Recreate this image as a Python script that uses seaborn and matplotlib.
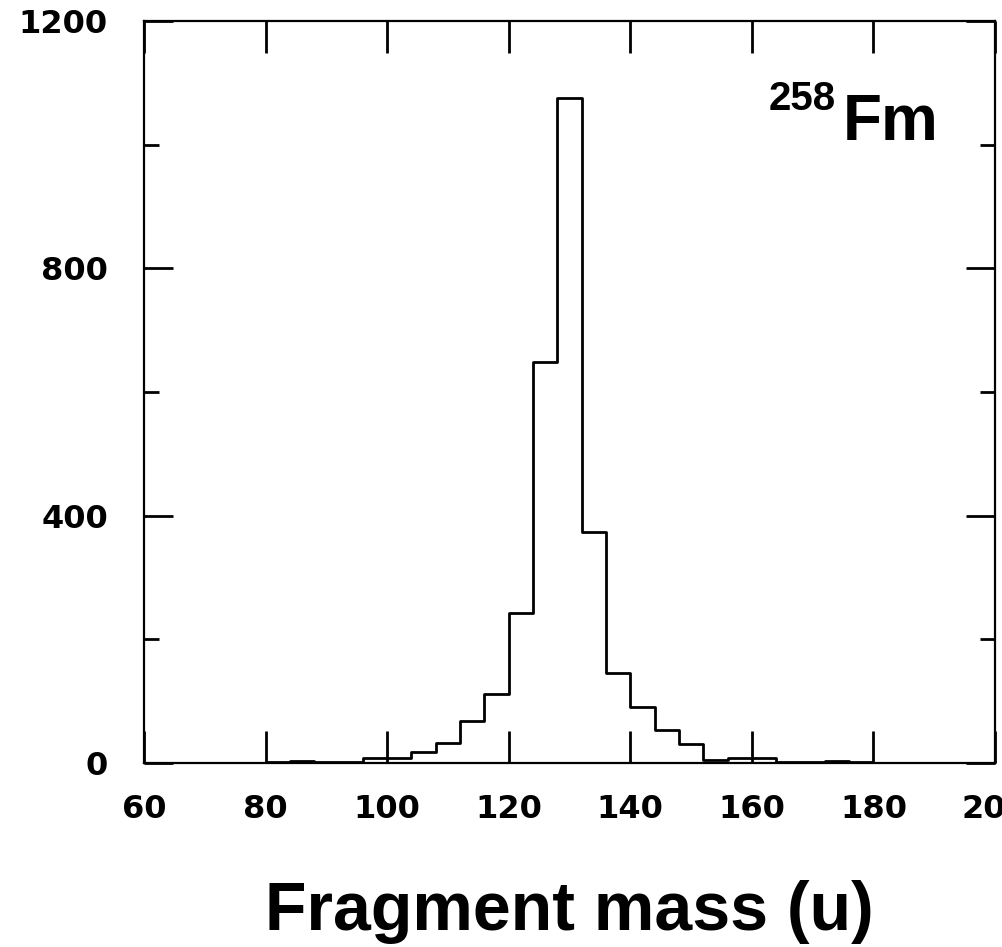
import numpy as np
import pandas as pd
import matplotlib
matplotlib.use("Agg")
import matplotlib.pyplot as plt
import seaborn as sns

# Bin lower edges (u) and counts
bin_width = 4
bin_lefts = [60, 64, 68, 72, 76, 80, 84, 88, 92, 96, 100, 104, 108, 112, 116,
             120, 124, 128, 132, 136, 140, 144, 148, 152, 156, 160, 164, 168,
             172, 176, 180, 184, 188, 192, 196]
counts = [0, 0, 0, 0, 0, 1, 3, 1, 2, 8, 8, 17, 33, 68, 111,
          243, 648, 1076, 374, 146, 91, 53, 30, 5, 8, 8, 2, 1,
          3, 1, 0, 0, 0, 0, 0]
x_ticks = [60, 80, 100, 120, 140, 160, 180, 200]
y_major = [0, 400, 800, 1200]
y_minor = [200, 600, 1000]
xlabel = "Fragment mass (u)"
nuclide_mass = "258"
nuclide_symbol = "Fm"

df = pd.DataFrame({"center": np.array(bin_lefts) + bin_width / 2, "count": counts})
edges = list(bin_lefts) + [bin_lefts[-1] + bin_width]

sns.set_style("ticks")
plt.rcParams["font.family"] = ["Liberation Sans", "DejaVu Sans"]
plt.rcParams["font.weight"] = "bold"
plt.rcParams["text.color"] = "black"
plt.rcParams["axes.labelcolor"] = "black"
plt.rcParams["xtick.color"] = "black"
plt.rcParams["ytick.color"] = "black"

fig = plt.figure(figsize=(10.02, 9.47), dpi=100)
ax = fig.add_axes([0.1437, 0.1943, 0.8493, 0.7835])

sns.histplot(data=df, x="center", weights="count", bins=edges, element="step",
             fill=False, color="black", linewidth=2.0, ax=ax)

ax.set_xlim(60, 200)
ax.set_ylim(0, 1200)
ax.set_xticks(x_ticks)
ax.set_yticks(y_major)
ax.set_yticks(y_minor, minor=True)
tick_font = dict(fontsize=23, fontweight="bold", family=["DejaVu Sans"], color="black")
ax.set_xticklabels([str(v) for v in x_ticks], **tick_font)
ax.set_yticklabels([str(v) for v in y_major], **tick_font)

ax.tick_params(axis="both", which="major", direction="in", top=True, right=True,
               width=2.0, color="black")
ax.tick_params(axis="x", which="major", length=23, pad=22)
ax.tick_params(axis="y", which="major", length=21, pad=26)
ax.tick_params(axis="y", which="minor", direction="in", right=True, length=11,
               width=2.0, color="black")

for s in ax.spines.values():
    s.set_linewidth(1.6)
    s.set_color("black")

ax.set_xlabel(xlabel, fontsize=49, fontweight="bold", labelpad=40, color="black")
ax.set_ylabel("")

ax.text(0.821, 0.8396, nuclide_symbol, transform=ax.transAxes, ha="left",
        va="baseline", fontsize=46, fontweight="bold", color="black")
ax.text(0.813, 0.880, nuclide_mass, transform=ax.transAxes, ha="right",
        va="baseline", fontsize=29, fontweight="bold", color="black")

fig.savefig("out.png", dpi=100)
